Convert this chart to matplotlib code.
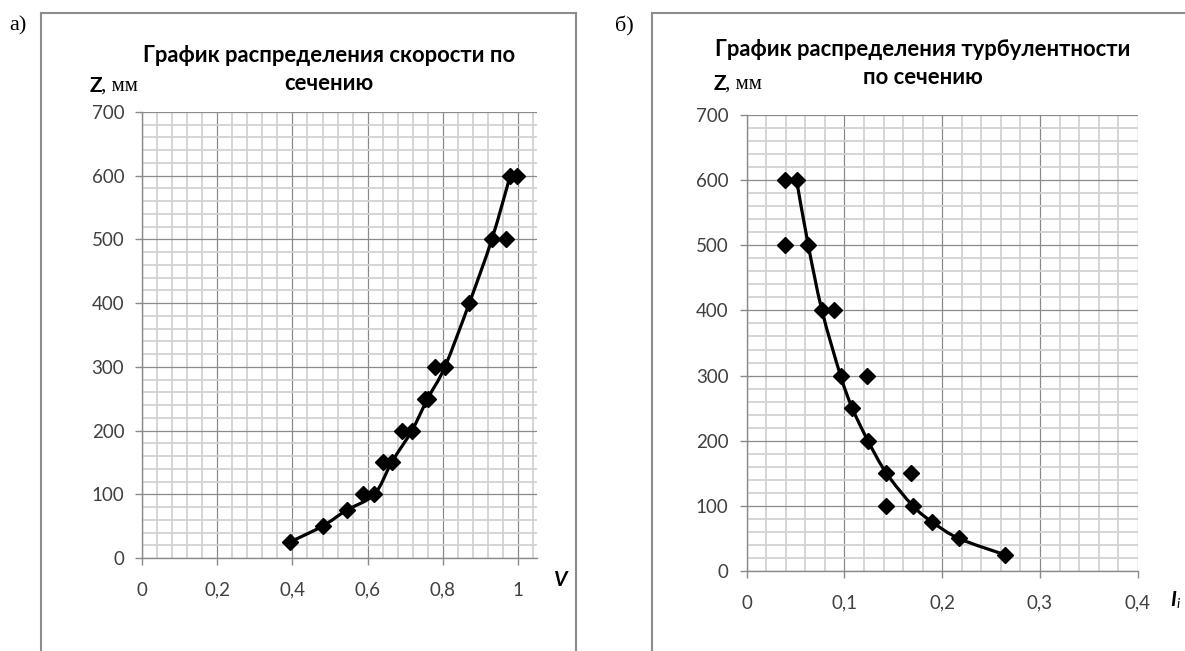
import matplotlib
matplotlib.use('Agg')
import matplotlib.pyplot as plt
from matplotlib.path import Path
from matplotlib.patches import PathPatch
from matplotlib.ticker import MultipleLocator, FixedLocator, FuncFormatter
from matplotlib.lines import Line2D

# ---------------- data ----------------
# Chart a) velocity distribution
z_line_v = [25, 50, 75, 100, 150, 200, 250, 300, 400, 500, 600]
v_line = [0.393, 0.480, 0.544, 0.618, 0.664, 0.718, 0.760, 0.806, 0.871, 0.931, 0.980]
z_extra_v = [100, 150, 200, 250, 300, 500, 600]
v_extra = [0.587, 0.642, 0.691, 0.753, 0.780, 0.968, 0.999]

# Chart б) turbulence distribution
z_line_i = [600, 500, 400, 300, 250, 200, 150, 100, 75, 50, 25]
i_line = [0.051, 0.063, 0.077, 0.096, 0.108, 0.124, 0.143, 0.170, 0.190, 0.217, 0.264]
z_extra_i = [600, 500, 400, 300, 150, 100]
i_extra = [0.039, 0.039, 0.089, 0.123, 0.168, 0.142]

v_ticks = [0, 0.2, 0.4, 0.6, 0.8, 1.0]
i_ticks = [0, 0.1, 0.2, 0.3, 0.4]
z_ticks = [0, 100, 200, 300, 400, 500, 600, 700]

title_a = ["График распределения скорости по", "сечению"]
title_b = ["График распределения турбулентности", "по сечению"]

# ---------------- figure ----------------
W, H = 1185, 651
fig = plt.figure(figsize=(W / 100, H / 100), dpi=100)
fig.patch.set_facecolor('white')


def fx(x):
    return x / W


def fy(y):
    return 1 - y / H


def axes_px(x0, x1, y_top, y_bot):
    return [fx(x0), fy(y_bot), (x1 - x0) / W, (y_bot - y_top) / H]


def comma(v, pos):
    if abs(v - round(v)) < 1e-9:
        return f"{int(round(v))}"
    return f"{v:g}".replace('.', ',')


def smooth_path(xs, ys):
    pts = list(zip(xs, ys))
    n = len(pts)
    verts = [pts[0]]
    codes = [Path.MOVETO]
    for i in range(n - 1):
        p0 = pts[i - 1] if i > 0 else pts[i]
        p1 = pts[i]
        p2 = pts[i + 1]
        p3 = pts[i + 2] if i + 2 < n else pts[i + 1]
        c1 = (p1[0] + (p2[0] - p0[0]) / 6, p1[1] + (p2[1] - p0[1]) / 6)
        c2 = (p2[0] - (p3[0] - p1[0]) / 6, p2[1] - (p3[1] - p1[1]) / 6)
        verts += [c1, c2, p2]
        codes += [Path.CURVE4] * 3
    return Path(verts, codes)


MAJ = '#8a8a8a'
MIN = '#d2d2d2'
TXT = '#404040'


def style_axes(ax, xmax, xminor, xticks):
    ax.set_xlim(0, xmax)
    ax.set_ylim(0, 700)
    ax.xaxis.set_major_locator(FixedLocator(xticks))
    ax.xaxis.set_minor_locator(MultipleLocator(xminor))
    ax.yaxis.set_major_locator(FixedLocator(z_ticks))
    ax.yaxis.set_minor_locator(MultipleLocator(20))
    ax.xaxis.set_major_formatter(FuncFormatter(comma))
    ax.yaxis.set_major_formatter(FuncFormatter(comma))
    ax.grid(which='minor', color=MIN, lw=1.3, zorder=0)
    ax.grid(which='major', color=MAJ, lw=0.9, zorder=0.5)
    ax.set_axisbelow(True)
    for s in ('top', 'right'):
        ax.spines[s].set_visible(False)
    for s in ('left', 'bottom'):
        ax.spines[s].set_color(MAJ)
        ax.spines[s].set_linewidth(1.0)
    ax.tick_params(which='major', direction='out', length=5, width=1.0, color=MAJ,
                   labelcolor=TXT, labelsize=13.5)
    ax.tick_params(axis='x', which='major', pad=12)
    ax.tick_params(axis='y', which='major', pad=8)
    ax.tick_params(which='minor', length=0)
    for lab in ax.get_xticklabels() + ax.get_yticklabels():
        lab.set_fontfamily('Lato')


def draw_series(ax, xl, zl, xe, ze):
    ax.add_patch(PathPatch(smooth_path(xl, zl), fill=False, ec='black', lw=2.3,
                           zorder=3, capstyle='round', joinstyle='round'))
    ax.plot(xl, zl, ls='none', marker='D', ms=8.5, color='black', zorder=4)
    ax.plot(xe, ze, ls='none', marker='D', ms=8.5, color='black', zorder=4)


# ---- left chart ----
ax1 = fig.add_axes(axes_px(142.3, 536.5, 112, 558))
style_axes(ax1, 1.05, 0.04, v_ticks)
draw_series(ax1, v_line, z_line_v, v_extra, z_extra_v)

# ---- right chart ----
ax2 = fig.add_axes(axes_px(746.7, 1137.7, 115, 571))
style_axes(ax2, 0.4, 0.02, i_ticks)
draw_series(ax2, i_line, z_line_i, i_extra, z_extra_i)

# ---- chart frames ----
FR = '#8c8c8c'
for x0, x1 in ((41, 576), (651.5, 1190)):
    fig.add_artist(Line2D([fx(x0), fx(x0)], [fy(13), fy(655)], color=FR, lw=1.5))
    fig.add_artist(Line2D([fx(x0), fx(x1)], [fy(13), fy(13)], color=FR, lw=1.5))
fig.add_artist(Line2D([fx(576), fx(576)], [fy(13), fy(655)], color=FR, lw=1.5))

# ---- titles ----
for (cx, y1, y2), t in (((329, 56, 84), title_a), ((923, 49, 78), title_b)):
    fig.text(fx(cx), fy(y1), t[0], ha='center', va='center', fontsize=15.8,
             fontweight='bold', family='Lato', color='black')
    fig.text(fx(cx), fy(y2), t[1], ha='center', va='center', fontsize=15.8,
             fontweight='bold', family='Lato', color='black')

# ---- Z, мм labels ----
for x0, y0 in ((90, 86), (714, 84)):
    fig.text(fx(x0), fy(y0), 'Z', ha='left', va='center', fontsize=15,
             fontweight='bold', family='Lato', color='black')
    fig.text(fx(x0 + 11), fy(y0), ', мм', ha='left', va='center', fontsize=15,
             family='Liberation Serif', color='black')

# ---- panel letters ----
fig.text(fx(9), fy(26), 'а)', ha='left', va='center', fontsize=16,
         family='Liberation Serif', color='black')
fig.text(fx(615), fy(26), 'б)', ha='left', va='center', fontsize=16,
         family='Liberation Serif', color='black')

# ---- axis names ----
fig.text(fx(561), fy(580), 'V', ha='center', va='center', fontsize=15,
         fontweight='bold', style='italic', family='Lato', color='black')
fig.text(fx(1173), fy(600), 'I', ha='center', va='center', fontsize=15,
         fontweight='bold', style='italic', family='Lato', color='black')
fig.text(fx(1177), fy(604), 'i', ha='left', va='center', fontsize=10,
         style='italic', family='Lato', color='black')

fig.savefig('out.png', dpi=100, facecolor='white')
